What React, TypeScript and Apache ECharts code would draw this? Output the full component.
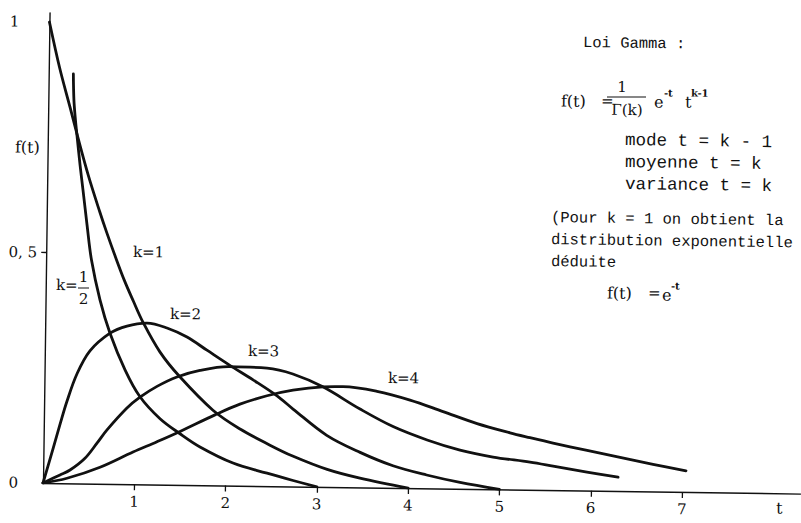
import React, { useEffect, useRef } from "react";
import * as echarts from "echarts";

// Density curves f(t) of the Gamma law, read as (t, f) pairs for each k.
const tHalf = [0.27, 0.28, 0.3, 0.325, 0.357, 0.393, 0.443, 0.497, 0.596, 0.711, 0.881, 1.049, 1.272, 1.493, 1.714, 2.078, 2.452, 2.738, 3.0];
const fHalf = [0.888, 0.832, 0.788, 0.745, 0.691, 0.637, 0.561, 0.485, 0.399, 0.327, 0.248, 0.19, 0.143, 0.111, 0.083, 0.049, 0.028, 0.013, 0.0];

const tOne = [0, 0.12, 0.24, 0.33, 0.45, 0.58, 0.66, 0.76, 0.86, 0.96, 1.07, 1.26, 1.48, 1.85, 2.15, 2.48, 2.73, 3.11, 3.47, 4.0];
const fOne = [1.0, 0.9, 0.815, 0.75, 0.668, 0.59, 0.545, 0.492, 0.442, 0.398, 0.352, 0.288, 0.235, 0.163, 0.123, 0.089, 0.066, 0.038, 0.02, 0.0];

const tTwo = [0, 0.105, 0.178, 0.25, 0.356, 0.494, 0.711, 0.896, 1.115, 1.334, 1.555, 1.775, 2.02, 2.285, 2.55, 2.727, 3.1, 3.468, 3.83, 4.2, 4.567, 5.0];
const fTwo = [0, 0.075, 0.128, 0.178, 0.238, 0.288, 0.327, 0.343, 0.35, 0.34, 0.321, 0.293, 0.262, 0.23, 0.196, 0.168, 0.112, 0.076, 0.048, 0.029, 0.014, 0.0];

const tThree = [0, 0.185, 0.294, 0.456, 0.585, 0.693, 0.908, 1.049, 1.234, 1.451, 1.702, 2.02, 2.436, 2.72, 3.05, 3.461, 3.825, 4.2, 4.562, 4.925, 5.33, 5.584, 5.956, 6.297];
const fThree = [0, 0.018, 0.029, 0.055, 0.088, 0.117, 0.165, 0.189, 0.213, 0.234, 0.249, 0.258, 0.256, 0.244, 0.217, 0.17, 0.133, 0.105, 0.084, 0.07, 0.06, 0.052, 0.04, 0.03];

const tFour = [0, 0.262, 0.622, 0.981, 1.242, 1.493, 1.873, 2.145, 2.44, 2.724, 3.05, 3.27, 3.644, 4.007, 4.37, 4.745, 5.107, 5.327, 5.58, 5.954, 6.316, 6.678, 7.04];
const fFour = [0, 0.011, 0.036, 0.07, 0.093, 0.116, 0.153, 0.177, 0.196, 0.209, 0.217, 0.218, 0.209, 0.191, 0.167, 0.142, 0.123, 0.113, 0.102, 0.087, 0.073, 0.059, 0.046];

const curveNames = ["k=1/2", "k=1", "k=2", "k=3", "k=4"];
const curveT = [tHalf, tOne, tTwo, tThree, tFour];
const curveF = [fHalf, fOne, fTwo, fThree, fFour];

// Axis ticks and their labels
const xTickValues = [1, 2, 3, 4, 5, 6, 7];
const yLabelValues = [0, 0.5, 1];
const yLabelTexts = ["0", "0, 5", "1"];
const yTickValues = [0.5];

const INK = "#111";
const MONO = '17.5px "Liberation Mono", "DejaVu Sans Mono", monospace';
const MONO_TITLE = '15.5px "Liberation Mono", "DejaVu Sans Mono", monospace';
const MONO_NOTE = '15.5px "Liberation Mono", "DejaVu Sans Mono", monospace';
const SERIF = '15px "DejaVu Serif", serif';
const SERIF_F = '16px "DejaVu Serif", serif';
const SUP = 'bold 10px "DejaVu Serif", serif';

// plot frame: origin at (43, 483), 91.3 px per unit of t, 461 px per unit of f
const OX = 43;
const OY = 483;
const PX_T = 91.3;
const PX_F = 461;
const X_MAX = 8.3;
const Y_MAX = 1.02;

// the whole figure is turned slightly clockwise around the origin
const TILT_DEG = 0.8;
const SIN = Math.sin((TILT_DEG * Math.PI) / 180);
const COS = Math.cos((TILT_DEG * Math.PI) / 180);

// page point -> point in the turned chart frame
function toFrame(x: number, y: number): [number, number] {
  const dx = x - OX;
  const dy = OY - y;
  const u = dx * COS - dy * SIN;
  const v = dx * SIN + dy * COS;
  return [OX + u, OY - v];
}

function text(s: string, x: number, y: number, font: string, align: string = "left") {
  const [fx, fy] = toFrame(x, y);
  return {
    type: "text",
    x: fx,
    y: fy,
    silent: true,
    style: { text: s, font, fill: INK, textAlign: align, textVerticalAlign: "middle" },
  };
}

function rule(x1: number, x2: number, y: number) {
  const [ax, ay] = toFrame(x1, y);
  const [bx, by] = toFrame(x2, y);
  return {
    type: "line",
    silent: true,
    shape: { x1: ax, y1: ay, x2: bx, y2: by },
    style: { stroke: INK, lineWidth: 1.2 },
  };
}

export default function App() {
  const ref = useRef<HTMLDivElement>(null);

  useEffect(() => {
    if (!ref.current) return;
    const chart = echarts.init(ref.current, undefined, { renderer: "svg" });

    const series = curveNames.map((name, i) => ({
      name,
      type: "line",
      data: curveT[i].map((t, j) => [t, curveF[i][j]]),
      showSymbol: false,
      smooth: 0.35,
      silent: true,
      lineStyle: { color: INK, width: 2.8, cap: "round", join: "round" },
    }));

    const graphic = [
      // y axis name and curve labels
      text("f(t)", 15, 147, SERIF_F),
      text("k=1", 133, 252, SERIF),
      text("k=", 56, 285, SERIF),
      text("1", 83.5, 277, SERIF, "center"),
      rule(78, 89, 288),
      text("2", 83.5, 299, SERIF, "center"),
      text("k=2", 170, 314, SERIF),
      text("k=3", 248, 351, SERIF),
      text("k=4", 388, 378, SERIF),
      text("t", 776, 508, SERIF_F),

      // side notes
      text("Loi Gamma :", 583, 43, MONO_TITLE),
      text("f(t)", 561, 101, SERIF_F),
      text("=", 601, 101, SERIF),
      text("1", 622, 87, SERIF, "center"),
      rule(607, 646, 97),
      text("Γ(k)", 627, 110, SERIF, "center"),
      text("e", 654, 102, SERIF_F),
      text("-t", 664, 93, SUP),
      text("t", 685, 102, SERIF_F),
      text("k-1", 691, 93, SUP),
      text("mode t = k - 1", 625, 140, MONO),
      text("moyenne t = k", 625, 162, MONO),
      text("variance t = k", 625, 184, MONO),
      text("(Pour k = 1 on obtient la", 551, 218, MONO_NOTE),
      text("distribution exponentielle", 551, 240, MONO_NOTE),
      text("déduite", 551, 262, MONO_NOTE),
      text("f(t)", 607, 293, SERIF_F),
      text("=", 648, 293, SERIF),
      text("e", 662, 295, SERIF_F),
      text("-t", 671, 286, SUP),
    ];

    chart.setOption({
      animation: false,
      backgroundColor: "#fff",
      grid: {
        left: OX,
        top: OY - Y_MAX * PX_F,
        width: X_MAX * PX_T,
        height: Y_MAX * PX_F,
        containLabel: false,
        outerBoundsMode: "none",
      },
      xAxis: {
        type: "value",
        min: 0,
        max: X_MAX,
        interval: 1,
        splitLine: { show: false },
        axisLine: { show: true, onZero: false, lineStyle: { color: INK, width: 1.4 } },
        axisTick: {
          show: true,
          customValues: xTickValues,
          length: 6,
          lineStyle: { color: INK, width: 1.3 },
        },
        axisLabel: {
          customValues: xTickValues,
          margin: 10,
          color: INK,
          fontFamily: "DejaVu Serif",
          fontSize: 15,
        },
      },
      yAxis: {
        type: "value",
        min: 0,
        max: Y_MAX,
        interval: 0.5,
        splitLine: { show: false },
        axisLine: { show: true, onZero: false, lineStyle: { color: INK, width: 1.4 } },
        axisTick: {
          show: true,
          customValues: yTickValues,
          length: 5,
          lineStyle: { color: INK, width: 1.3 },
        },
        axisLabel: {
          customValues: yLabelValues,
          margin: 9,
          color: INK,
          fontFamily: "DejaVu Serif",
          fontSize: 15,
          formatter: (v: number) => {
            const i = yLabelValues.indexOf(v);
            return `{y${i}|${yLabelTexts[i]}}`;
          },
          rich: {
            y0: { padding: [0, 16, 0, 0] },
            y1: { padding: [0, 0, 0, 0] },
            y2: { padding: [0, 21, 0, 0] },
          },
        },
      },
      series,
      graphic,
    });

    return () => chart.dispose();
  }, []);

  return (
    <div
      style={{
        position: "fixed",
        left: 0,
        top: 0,
        width: 801,
        height: 523,
        overflow: "hidden",
        background: "#fff",
      }}
    >
      <div
        ref={ref}
        style={{
          width: 801,
          height: 523,
          transform: `rotate(${TILT_DEG}deg)`,
          transformOrigin: `${OX}px ${OY}px`,
        }}
      />
    </div>
  );
}
